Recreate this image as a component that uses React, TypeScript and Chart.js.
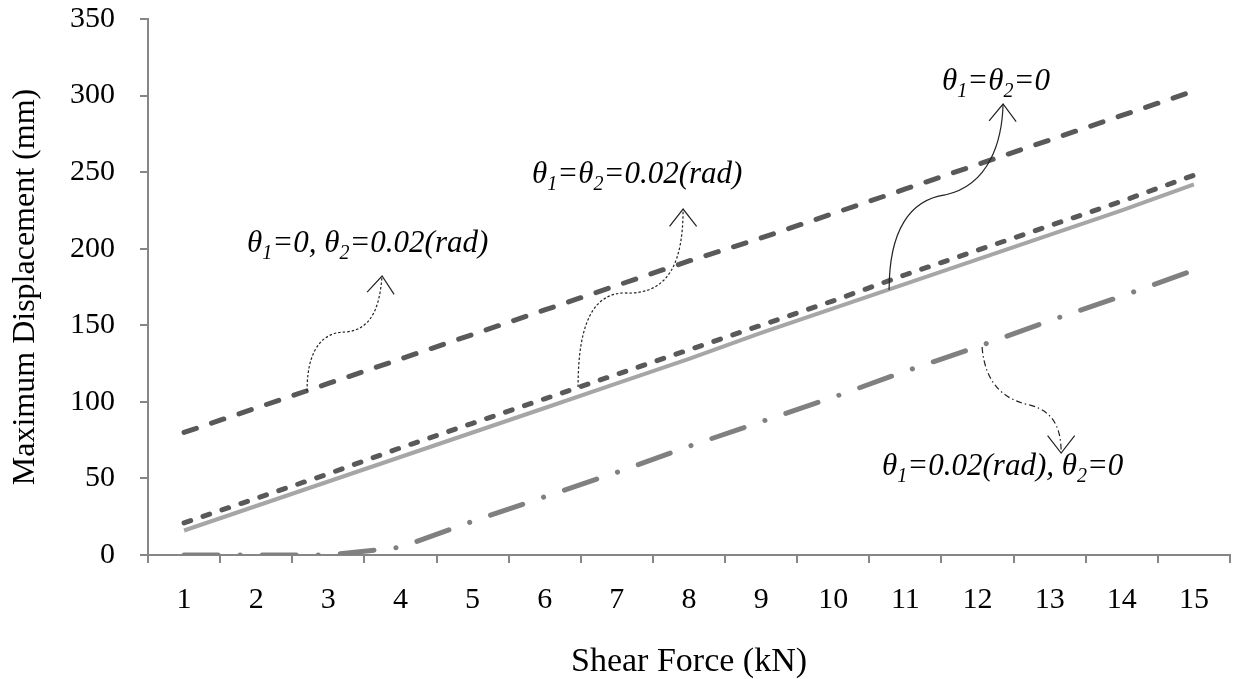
import React, { useEffect, useRef } from 'react';
import { Chart, registerables } from 'chart.js';

Chart.register(...registerables);

// ---- data ----
const shearForce = ['1', '2', '3', '4', '5', '6', '7', '8', '9', '10', '11', '12', '13', '14', '15'];
const dispT1Zero_T2Rad = [80, 96, 112, 128, 144, 160, 176, 192, 207, 223, 239, 255, 271, 287, 303];
const dispBothRad = [21, 37, 53, 70, 86, 102, 118, 134, 150, 166, 183, 199, 215, 231, 248];
const dispBothZero = [16, 32, 48, 64, 80, 96, 112, 128, 145, 161, 177, 193, 209, 225, 242];
const dispT1Rad_T2Zero = [0, 0, 0, 5, 22, 38, 54, 71, 87, 103, 120, 136, 153, 169, 186];

const FONT = '"Liberation Serif", "Times New Roman", serif';

type Seg = { t: string; sub?: boolean };
type Ann = {
  segs: Seg[];
  at: [number, number]; // [kN, mm] text left-baseline
  path: [number, number][]; // start, c1, c2, mid, c3, c4, tip in [kN, mm]
  dash: number[];
};

const annotations: Ann[] = [
  {
    segs: [{ t: 'θ' }, { t: '1', sub: true }, { t: '=0, θ' }, { t: '2', sub: true }, { t: '=0.02(rad)' }],
    at: [1.873, 197.9],
    path: [[2.705, 107.1], [2.705, 140.4], [3.024, 145.6], [3.232, 145.6], [3.648, 146.9], [3.717, 166.5], [3.745, 182.2]],
    dash: [2.5, 2],
  },
  {
    segs: [{ t: 'θ' }, { t: '1', sub: true }, { t: '=θ' }, { t: '2', sub: true }, { t: '=0.02(rad)' }],
    at: [5.825, 242.9],
    path: [[6.462, 109.7], [6.462, 153.5], [6.698, 171.1], [7.114, 171.1], [7.738, 169.8], [7.918, 192.6], [7.918, 225.9]],
    dash: [2.5, 2],
  },
  {
    segs: [{ t: 'θ' }, { t: '1', sub: true }, { t: '=θ' }, { t: '2', sub: true }, { t: '=0' }],
    at: [11.509, 303.6],
    path: [[10.774, 173.0], [10.774, 212.2], [11.065, 231.8], [11.55, 235.1], [12.174, 241.6], [12.341, 271.0], [12.354, 294.5]],
    dash: [],
  },
  {
    segs: [{ t: 'θ' }, { t: '1', sub: true }, { t: '=0.02(rad), θ' }, { t: '2', sub: true }, { t: '=0' }],
    at: [10.677, 52.2],
    path: [[12.063, 135.8], [12.105, 111.0], [12.382, 101.2], [12.729, 97.9], [13.075, 93.4], [13.159, 81.6], [13.159, 66.6]],
    dash: [6, 3, 1.5, 3],
  },
];

const annotationPlugin = {
  id: 'curvedArrows',
  afterDatasetsDraw(chart: any) {
    const { ctx } = chart;
    const xs = chart.scales.x;
    const ys = chart.scales.y;
    const P = (p: [number, number]) => [xs.getPixelForValue(p[0] - 1), ys.getPixelForValue(p[1])];
    ctx.save();
    for (const a of annotations) {
      const pts = a.path.map(P);
      ctx.strokeStyle = '#222';
      ctx.lineWidth = 1.2;
      ctx.setLineDash(a.dash);
      ctx.beginPath();
      ctx.moveTo(pts[0][0], pts[0][1]);
      ctx.bezierCurveTo(pts[1][0], pts[1][1], pts[2][0], pts[2][1], pts[3][0], pts[3][1]);
      ctx.bezierCurveTo(pts[4][0], pts[4][1], pts[5][0], pts[5][1], pts[6][0], pts[6][1]);
      ctx.stroke();
      // arrowhead
      ctx.setLineDash([]);
      const tip = pts[6];
      const prev = pts[5];
      let dx = tip[0] - prev[0];
      let dy = tip[1] - prev[1];
      const len = Math.hypot(dx, dy) || 1;
      dx /= len; dy /= len;
      const bx = -dx, by = -dy;
      const ang = (38 * Math.PI) / 180;
      const L = 22;
      const w1 = [bx * Math.cos(ang) - by * Math.sin(ang), bx * Math.sin(ang) + by * Math.cos(ang)];
      const w2 = [bx * Math.cos(-ang) - by * Math.sin(-ang), bx * Math.sin(-ang) + by * Math.cos(-ang)];
      ctx.beginPath();
      ctx.moveTo(tip[0] + w1[0] * L, tip[1] + w1[1] * L);
      ctx.lineTo(tip[0], tip[1]);
      ctx.lineTo(tip[0] + w2[0] * L, tip[1] + w2[1] * L);
      ctx.stroke();
      // label
      const [tx, ty] = P(a.at);
      let cx = tx;
      ctx.fillStyle = '#000';
      ctx.textBaseline = 'alphabetic';
      ctx.textAlign = 'left';
      for (const s of a.segs) {
        if (s.sub) {
          ctx.font = `italic 20px ${FONT}`;
          ctx.fillText(s.t, cx, ty + 7);
        } else {
          ctx.font = `italic 31px ${FONT}`;
          ctx.fillText(s.t, cx, ty);
        }
        cx += ctx.measureText(s.t).width;
      }
    }
    ctx.restore();
  },
};

export default function App() {
  const ref = useRef<HTMLCanvasElement | null>(null);
  useEffect(() => {
    if (!ref.current) return;
    const axisColor = '#868686';
    const chart = new Chart(ref.current, {
      type: 'line',
      data: {
        labels: shearForce,
        datasets: [
          {
            label: 'θ1=0, θ2=0.02(rad)',
            data: dispT1Zero_T2Rad,
            borderColor: '#595959',
            borderWidth: 5,
            borderDash: [13, 16],
            borderCapStyle: 'round',
            pointRadius: 0,
            fill: false,
          },
          {
            label: 'θ1=θ2=0.02(rad)',
            data: dispBothRad,
            borderColor: '#595959',
            borderWidth: 5,
            borderDash: [7, 13],
            borderCapStyle: 'round',
            pointRadius: 0,
            fill: false,
          },
          {
            label: 'θ1=θ2=0',
            data: dispBothZero,
            borderColor: '#A6A6A6',
            borderWidth: 4,
            pointRadius: 0,
            fill: false,
          },
          {
            label: 'θ1=0.02(rad), θ2=0',
            data: dispT1Rad_T2Zero,
            borderColor: '#808080',
            borderWidth: 5,
            borderDash: [34, 22, 0.1, 22],
            borderCapStyle: 'round',
            pointRadius: 0,
            fill: false,
          },
        ],
      },
      options: {
        responsive: false,
        animation: false,
        layout: { padding: { top: 19, right: 3, left: 0, bottom: 0 } },
        plugins: { legend: { display: false }, tooltip: { enabled: false } },
        elements: { line: { tension: 0 } },
        scales: {
          x: {
            type: 'category',
            offset: true,
            grid: { offset: true, drawOnChartArea: false, drawTicks: true, tickLength: 8, color: axisColor, lineWidth: 2 },
            border: { color: axisColor, width: 2 },
            ticks: { color: '#000', font: { family: FONT, size: 30 }, padding: 19, maxRotation: 0, autoSkip: false },
            title: { display: true, text: 'Shear Force (kN)', color: '#000', font: { family: FONT, size: 34 }, padding: { top: 0, bottom: -3 } },
            afterFit: (s: any) => { s.height = 124; s.paddingLeft = 0; s.paddingRight = 0; },
          },
          y: {
            min: 0,
            max: 350,
            ticks: { stepSize: 50, color: '#000', font: { family: FONT, size: 30 }, padding: 25 },
            grid: { drawOnChartArea: false, drawTicks: true, tickLength: 8, color: axisColor, lineWidth: 2 },
            border: { color: axisColor, width: 2 },
            title: { display: true, text: 'Maximum Displacement (mm)', color: '#000', font: { family: FONT, size: 32 }, padding: { top: 6, bottom: 0 } },
            afterFit: (s: any) => { s.width = 148; s.paddingTop = 0; s.paddingBottom = 0; },
          },
        },
      } as any,
      plugins: [annotationPlugin],
    });
    return () => chart.destroy();
  }, []);
  return (
    <div style={{ position: 'absolute', left: 0, top: 0, width: 1233, height: 679, background: '#fff' }}>
      <canvas ref={ref} width={1233} height={679} />
    </div>
  );
}
